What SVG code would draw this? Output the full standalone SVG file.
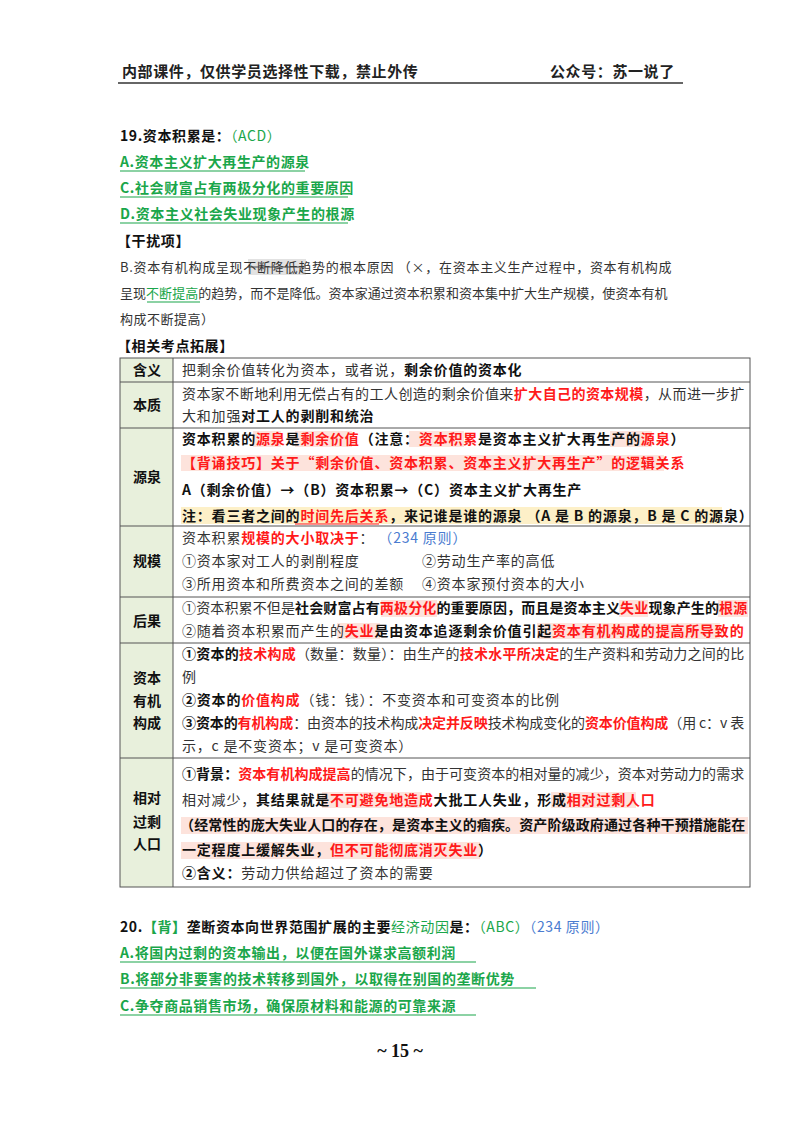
<svg xmlns="http://www.w3.org/2000/svg" width="800" height="1132" viewBox="0 0 800 1132">
<style>
text{font-family:"Noto Sans CJK SC","Noto Sans",sans-serif;fill:#222}
.h{font-size:15px;font-weight:700;letter-spacing:0.6px}
.q{font-size:14px;letter-spacing:0.6px}
.p{font-size:13px;letter-spacing:0.5px;fill:#333}
.t{font-size:14px;letter-spacing:0.8px;fill:#333}
.lab{font-size:14px;font-weight:700;text-anchor:middle;fill:#111}
.b{font-weight:700;fill:#111}
.r{fill:#ff1a1a;font-weight:700}
.g{fill:#1aa64a}
.bl{fill:#4a7cd0}
.ul{stroke:#1aa64a;stroke-width:1.2}
.pk{fill:#fde3dc}
.yl{fill:#fdf0c8}
.cell{fill:#e8f0dc}
.grid{stroke:#555;stroke-width:1;fill:none}
</style>
<rect width="800" height="1132" fill="#fff"/>
<g id="header">
<text class="h" x="122" y="77">内部课件，仅供学员选择性下载，禁止外传</text>
<text class="h" x="550" y="77">公众号：苏一说了</text>
<line x1="118" y1="83" x2="683" y2="83" stroke="#333" stroke-width="1.5"/>
</g>
<g id="q19">
<text class="q" x="120" y="141"><tspan class="b">19.资本积累是：</tspan><tspan class="g">（ACD）</tspan></text>
<text class="q g b" x="120" y="167" style="fill:#1aa64a">A.资本主义扩大再生产的源泉</text>
<line class="ul" x1="120" y1="171" x2="305" y2="171"/>
<text class="q g b" x="120" y="193" style="fill:#1aa64a">C.社会财富占有两极分化的重要原因</text>
<line class="ul" x1="120" y1="197" x2="348" y2="197"/>
<text class="q g b" x="120" y="219" style="fill:#1aa64a">D.资本主义社会失业现象产生的根源</text>
<line class="ul" x1="120" y1="223" x2="348" y2="223"/>
<text class="q b" x="117" y="246">【干扰项】</text>
<rect x="248" y="259" width="58" height="16" fill="#e2e2e2"/>
<text class="p" x="120" y="272" textLength="552" lengthAdjust="spacing">B.资本有机构成呈现不断降低趋势的根本原因 （×，在资本主义生产过程中，资本有机构成</text>
<line x1="248" y1="267" x2="306" y2="267" stroke="#444" stroke-width="1"/>
<text class="p" x="120" y="298" textLength="548" lengthAdjust="spacing">呈现<tspan class="g">不断提高</tspan>的趋势，而不是降低。资本家通过资本积累和资本集中扩大生产规模，使资本有机</text>
<line class="ul" x1="147" y1="302" x2="200" y2="302"/>
<text class="p" x="120" y="324">构成不断提高）</text>
<text class="q b" x="117" y="351">【相关考点拓展】</text>
</g>
<g id="table">
<rect class="cell" x="120" y="358" width="53" height="529"/>
<g id="highlights">
<rect class="pk" x="253" y="431" width="28" height="16"/>
<rect class="pk" x="295" y="431" width="57" height="16"/>
<rect class="pk" x="409" y="431" width="55" height="16"/>
<rect class="pk" x="610" y="431" width="42" height="16"/>
<rect class="pk" x="181" y="455" width="483" height="16"/>
<rect class="yl" x="181" y="507" width="541" height="17"/>
<rect class="pk" x="381" y="600" width="56" height="17"/>
<rect class="pk" x="619" y="600" width="29" height="17"/>
<rect class="pk" x="718" y="600" width="30" height="17"/>
<rect class="pk" x="337" y="623" width="43" height="16"/>
<rect class="pk" x="537" y="623" width="183" height="16"/>
<rect class="pk" x="322" y="792" width="100" height="16"/>
<rect class="pk" x="551" y="792" width="85" height="16"/>
<rect class="pk" x="181" y="817" width="567" height="17"/>
<rect class="pk" x="181" y="842" width="299" height="17"/>
</g>
<g id="grid">
<rect class="grid" x="120" y="358" width="630" height="529"/>
<line class="grid" x1="173" y1="358" x2="173" y2="887"/>
<line class="grid" x1="120" y1="382" x2="750" y2="382"/>
<line class="grid" x1="120" y1="428" x2="750" y2="428"/>
<line class="grid" x1="120" y1="526" x2="750" y2="526"/>
<line class="grid" x1="120" y1="597" x2="750" y2="597"/>
<line class="grid" x1="120" y1="643" x2="750" y2="643"/>
<line class="grid" x1="120" y1="758" x2="750" y2="758"/>
</g>
<g id="row-hanyi">
<text class="lab" x="147" y="375">含义</text>
<text class="t" x="182" y="375">把剩余价值转化为资本，或者说，<tspan class="b">剩余价值的资本化</tspan></text>
</g>
<g id="row-benzhi">
<text class="lab" x="147" y="410">本质</text>
<text class="t" x="182" y="399" textLength="563" lengthAdjust="spacing">资本家不断地利用无偿占有的工人创造的剩余价值来<tspan class="r">扩大自己的资本规模</tspan>，从而进一步扩</text>
<text class="t" x="182" y="421">大和加强<tspan class="b">对工人的剥削和统治</tspan></text>
</g>
<g id="row-yuanquan">
<text class="lab" x="147" y="482">源泉</text>
<text class="t b" x="182" y="444">资本积累的<tspan class="r">源泉</tspan>是<tspan class="r">剩余价值</tspan>（注意：<tspan class="r">资本积累</tspan>是资本主义扩大再生产的<tspan class="r">源泉</tspan>）</text>
<text class="t r" x="182" y="468">【背诵技巧】关于“剩余价值、资本积累、资本主义扩大再生产”的逻辑关系</text>
<text class="t b" x="182" y="495">A（剩余价值）→（B）资本积累→（C）资本主义扩大再生产</text>
<text class="t b" x="182" y="521">注：看三者之间的<tspan class="r">时间先后关系</tspan>，来记谁是谁的源泉 （A 是 B 的源泉，B 是 C 的源泉）</text>
<line x1="295" y1="524" x2="379" y2="524" stroke="#ff1a1a" stroke-width="1"/>
</g>
<g id="row-guimo">
<text class="lab" x="147" y="566">规模</text>
<text class="t" x="182" y="543">资本积累<tspan class="r">规模的大小取决于</tspan>：<tspan class="bl"> （234 原则）</tspan></text>
<text class="t" x="182" y="566">①资本家对工人的剥削程度</text>
<text class="t" x="422" y="566">②劳动生产率的高低</text>
<text class="t" x="182" y="589">③所用资本和所费资本之间的差额</text>
<text class="t" x="422" y="589">④资本家预付资本的大小</text>
</g>
<g id="row-houguo">
<text class="lab" x="147" y="626">后果</text>
<text class="t" x="182" y="613" textLength="566" lengthAdjust="spacing">①资本积累不但是<tspan class="b">社会财富占有</tspan><tspan class="r">两极分化</tspan><tspan class="b">的重要原因，而且是资本主义</tspan><tspan class="r">失业</tspan><tspan class="b">现象产生的</tspan><tspan class="r">根源</tspan></text>
<text class="t" x="182" y="636">②随着资本积累而产生的<tspan class="r">失业</tspan><tspan class="b">是由资本追逐剩余价值引起</tspan><tspan class="r">资本有机构成的提高所导致的</tspan></text>
</g>
<g id="row-youji">
<text class="lab" x="147" y="683">资本</text>
<text class="lab" x="147" y="706">有机</text>
<text class="lab" x="147" y="728">构成</text>
<text class="t" x="182" y="659" textLength="563" lengthAdjust="spacing"><tspan class="b">①资本的</tspan><tspan class="r">技术构成</tspan>（数量：数量）：由生产的<tspan class="r">技术水平所决定</tspan>的生产资料和劳动力之间的比</text>
<text class="t" x="182" y="682">例</text>
<text class="t" x="182" y="705"><tspan class="b">②资本的</tspan><tspan class="r">价值构成</tspan>（钱：钱）：不变资本和可变资本的比例</text>
<text class="t" x="182" y="728" textLength="563" lengthAdjust="spacing"><tspan class="b">③资本的</tspan><tspan class="r">有机构成</tspan>：由资本的技术构成<tspan class="r">决定并反映</tspan>技术构成变化的<tspan class="r">资本价值构成</tspan>（用 c：v 表</text>
<text class="t" x="182" y="751">示，c 是不变资本；v 是可变资本）</text>
</g>
<g id="row-renkou">
<text class="lab" x="147" y="803">相对</text>
<text class="lab" x="147" y="827">过剩</text>
<text class="lab" x="147" y="849">人口</text>
<text class="t" x="182" y="779" textLength="563" lengthAdjust="spacing"><tspan class="b">①背景：</tspan><tspan class="r">资本有机构成提高</tspan>的情况下，由于可变资本的相对量的减少，资本对劳动力的需求</text>
<text class="t" x="182" y="805">相对减少，<tspan class="b">其结果就是</tspan><tspan class="r">不可避免地造成</tspan><tspan class="b">大批工人失业，形成</tspan><tspan class="r">相对过剩人口</tspan></text>
<text class="t b" x="180" y="830" textLength="566" lengthAdjust="spacing">（经常性的庞大失业人口的存在，是资本主义的痼疾。资产阶级政府通过各种干预措施能在</text>
<text class="t b" x="182" y="855">一定程度上缓解失业，<tspan class="r">但不可能彻底消灭失业</tspan>）</text>
<text class="t" x="182" y="878"><tspan class="b">②含义：</tspan>劳动力供给超过了资本的需要</text>
</g>
</g>
<g id="q20">
<text class="q" x="120" y="932"><tspan class="b">20.</tspan><tspan class="g b" style="fill:#1aa64a">【背】</tspan><tspan class="b">垄断资本向世界范围扩展的主要</tspan><tspan class="g">经济动因</tspan><tspan class="b">是：</tspan><tspan class="g">（ABC）</tspan><tspan class="bl">（234 原则）</tspan></text>
<text class="q b" x="120" y="958" style="fill:#1aa64a">A.将国内过剩的资本输出，以便在国外谋求高额利润</text>
<line class="ul" x1="120" y1="962" x2="476" y2="962"/>
<text class="q b" x="120" y="984" style="fill:#1aa64a">B.将部分非要害的技术转移到国外，以取得在别国的垄断优势</text>
<line class="ul" x1="120" y1="988" x2="536" y2="988"/>
<text class="q b" x="120" y="1011" style="fill:#1aa64a">C.争夺商品销售市场，确保原材料和能源的可靠来源</text>
<line class="ul" x1="120" y1="1015" x2="476" y2="1015"/>
</g>
<text x="400" y="1057" text-anchor="middle" style="font-family:'Liberation Serif',serif;font-size:18px;font-weight:700;fill:#111">~ 15 ~</text>
</svg>
